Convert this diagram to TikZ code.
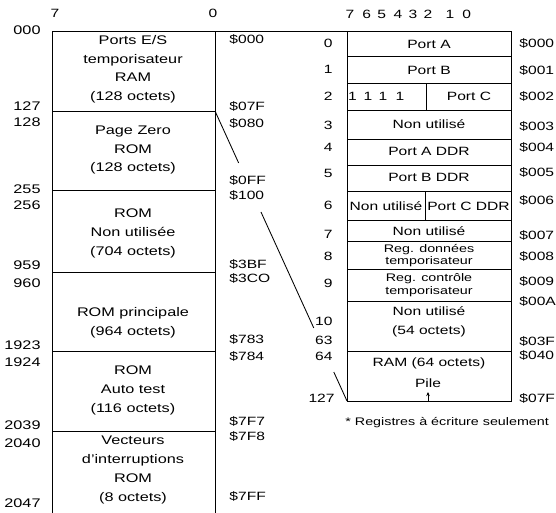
\documentclass[tikz,border=0pt]{standalone}
\usepackage{fontspec}
\setmainfont{Liberation Sans}[FakeStretch=1.3]
\usetikzlibrary{arrows.meta,calc}
\newcommand{\mainsz}{\fontsize{12}{18.5}\selectfont}
\newcommand{\leftsz}{\fontsize{12.5}{18.7}\selectfont}
\newcommand{\tightsz}{\fontsize{11}{12.5}\selectfont}
\newcommand{\notesz}{\fontsize{11}{13}\selectfont}
\begin{document}
\begin{tikzpicture}[x=1pt,y=-1pt,line width=0.85pt,
  txt/.style={font=\mainsz,inner sep=0pt,align=center},
  ltxt/.style={font=\leftsz,inner sep=0pt,align=center},
  twoline/.style={font=\tightsz,inner sep=0pt,align=center},
  numl/.style={font=\mainsz,inner sep=0pt,anchor=east},
  lnum/.style={font=\leftsz,inner sep=0pt,anchor=east},
  hexl/.style={font=\mainsz,inner sep=0pt,anchor=west},
  bitl/.style={font=\mainsz,inner sep=0pt}]
\useasboundingbox (0,0) rectangle (556,512);

% ---------- left memory map ----------
\coordinate (LTL) at (52,31.7);
\coordinate (LTR) at (215,31.7);
\coordinate (LBL) at (52,513);
\coordinate (LBR) at (215,513);
\draw (LBL) -- (LTL) -- (LTR) -- (LBR);
\coordinate (LD1) at (215,111);
\draw (52,111) -- (LD1);
\draw (52,190) -- (215,190);
\draw (52,272) -- (215,272);
\draw (52,351) -- (215,351);
\draw (52,431.7) -- (215,431.7);

\node[bitl] (b7l) at (55,13) {7};
\node[bitl] (b0l) at (213,13) {0};

\node[ltxt] (t1) at (133,69.2) {Ports E/S\\temporisateur\\RAM\\(128 octets)};
\node[ltxt] (t2) at (133,150) {Page Zero\\ROM\\(128 octets)};
\node[ltxt] (t3) at (133,233.3) {ROM\\Non utilisée\\(704 octets)};
\node[ltxt] (t4) at (133,322.5) {ROM principale\\(964 octets)};
\node[ltxt] (t5) at (133,390.6) {ROM\\Auto test\\(116 octets)};
\node[ltxt] (t6) at (133,470) {Vecteurs\\d'interruptions\\ROM\\(8 octets)};

\node[lnum] (n000) at (41,30) {000};
\node[lnum] (n127) at (41,106) {127};
\node[lnum] (n128) at (41,121.7) {128};
\node[lnum] (n255) at (41,189) {255};
\node[lnum] (n256) at (41,205) {256};
\node[lnum] (n959) at (41,265) {959};
\node[lnum] (n960) at (41,282.7) {960};
\node[lnum] (n1923) at (41,345) {1923};
\node[lnum] (n1924) at (41,361.7) {1924};
\node[lnum] (n2039) at (41,425) {2039};
\node[lnum] (n2040) at (41,442.7) {2040};
\node[lnum] (n2047) at (41,503) {2047};

\node[hexl] (h000) at (229,39) {\$000};
\node[hexl] (h07F) at (229,106) {\$07F};
\node[hexl] (h080) at (229,123) {\$080};
\node[hexl] (h0FF) at (229,180) {\$0FF};
\node[hexl] (h100) at (229,195) {\$100};
\node[hexl] (h3BF) at (229,264) {\$3BF};
\node[hexl] (h3C0) at (229,278) {\$3CO};
\node[hexl] (h783) at (229,339) {\$783};
\node[hexl] (h784) at (229,356.7) {\$784};
\node[hexl] (h7F7) at (229,421.7) {\$7F7};
\node[hexl] (h7F8) at (229,436) {\$7F8};
\node[hexl] (h7FF) at (229,496.7) {\$7FF};

% ---------- right detail map ----------
\coordinate (RTL) at (347,31.7);
\coordinate (RBL) at (347,401);
\draw (RTL) rectangle (511.7,401);
\foreach \yy in {56.7,83.3,110,139,165,191.7,220,241,269,301.5,351}
  \draw (347,\yy) -- (511.7,\yy);
\draw (426.5,83.3) -- (426.5,110);
\draw (425,191.7) -- (425,220);

\node[bitl] (b7) at (350,14) {7};
\node[bitl] (b6) at (366.7,14) {6};
\node[bitl] (b5) at (381.7,14) {5};
\node[bitl] (b4) at (398,14) {4};
\node[bitl] (b3) at (413,14) {3};
\node[bitl] (b2) at (428,14) {2};
\node[bitl] (b1) at (450,14) {1};
\node[bitl] (b0) at (466.7,14) {0};

\node[txt] (r0) at (429,44) {Port A};
\node[txt] (r1) at (429,70) {Port B};
\node[txt] (o7) at (352.5,96.7) {1};
\node[txt] (o6) at (368,96.7) {1};
\node[txt] (o5) at (383,96.7) {1};
\node[txt] (o4) at (400,96.7) {1};
\node[txt] (r2) at (469,96.7) {Port C};
\node[txt] (r3) at (429,124.5) {Non utilisé};
\node[txt] (r4) at (429,151) {Port A DDR};
\node[txt] (r5) at (429,177) {Port B DDR};
\node[txt] (r6a) at (386,206) {Non utilisé};
\node[txt] (r6b) at (468.5,206) {Port C DDR};
\node[txt] (r7) at (429,231.5) {Non utilisé};
\node[twoline] (r8) at (429,255.5) {Reg. données\\temporisateur};
\node[twoline] (r9) at (429,285) {Reg. contrôle\\temporisateur};
\node[txt] (r10) at (429,321.7) {Non utilisé\\(54 octets)};
\node[txt] (r64) at (429,363) {RAM (64 octets)};
\node[txt] (pile) at (428,383) {Pile};
\coordinate (pileB) at (428,401);
\coordinate (pileT) at (428,392);
\draw[-{Stealth[length=4pt,width=3.5pt]},line width=0.6pt] (pileB) -- (pileT);

\node[numl] (m0) at (333,43) {0};
\node[numl] (m1) at (333,69) {1};
\node[numl] (m2) at (333,96.5) {2};
\node[numl] (m3) at (333,125) {3};
\node[numl] (m4) at (333,147) {4};
\node[numl] (m5) at (333,173) {5};
\node[numl] (m6) at (333,205) {6};
\node[numl] (m7) at (333,234) {7};
\node[numl] (m8) at (333,256) {8};
\node[numl] (m9) at (333,283) {9};
\node[numl] (m10) at (333,321.7) {10};
\node[numl] (m63) at (333,340) {63};
\node[numl] (m64) at (333,356.7) {64};
\node[numl] (m127) at (335,398) {127};

\node[hexl] (g000) at (519,43) {\$000};
\node[hexl] (g001) at (519,70) {\$001};
\node[hexl] (g002) at (519,96.7) {\$002};
\node[hexl] (g003) at (519,126) {\$003};
\node[hexl] (g004) at (519,147) {\$004};
\node[hexl] (g005) at (519,172) {\$005};
\node[hexl] (g006) at (519,200) {\$006};
\node[hexl] (g007) at (519,235.7) {\$007};
\node[hexl] (g008) at (519,256) {\$008};
\node[hexl] (g009) at (519,281.7) {\$009};
\node[hexl] (g00A) at (519,301.7) {\$00A};
\node[hexl] (g03F) at (519,341.7) {\$03F};
\node[hexl] (g040) at (519,355) {\$040};
\node[hexl] (g07F) at (519,398) {\$07F};

\node[font=\notesz,inner sep=0pt,anchor=west] (note) at (345,423) {* Registres à écriture seulement};

% ---------- connectors ----------
\draw (LTR) -- (RTL);
\draw (LD1) -- ($(LD1)!0.179!(RBL)$);
\draw ($(LD1)!0.348!(RBL)$) -- ($(LD1)!0.748!(RBL)$);
\draw ($(LD1)!0.9!(RBL)$) -- (RBL);
\end{tikzpicture}
\end{document}
